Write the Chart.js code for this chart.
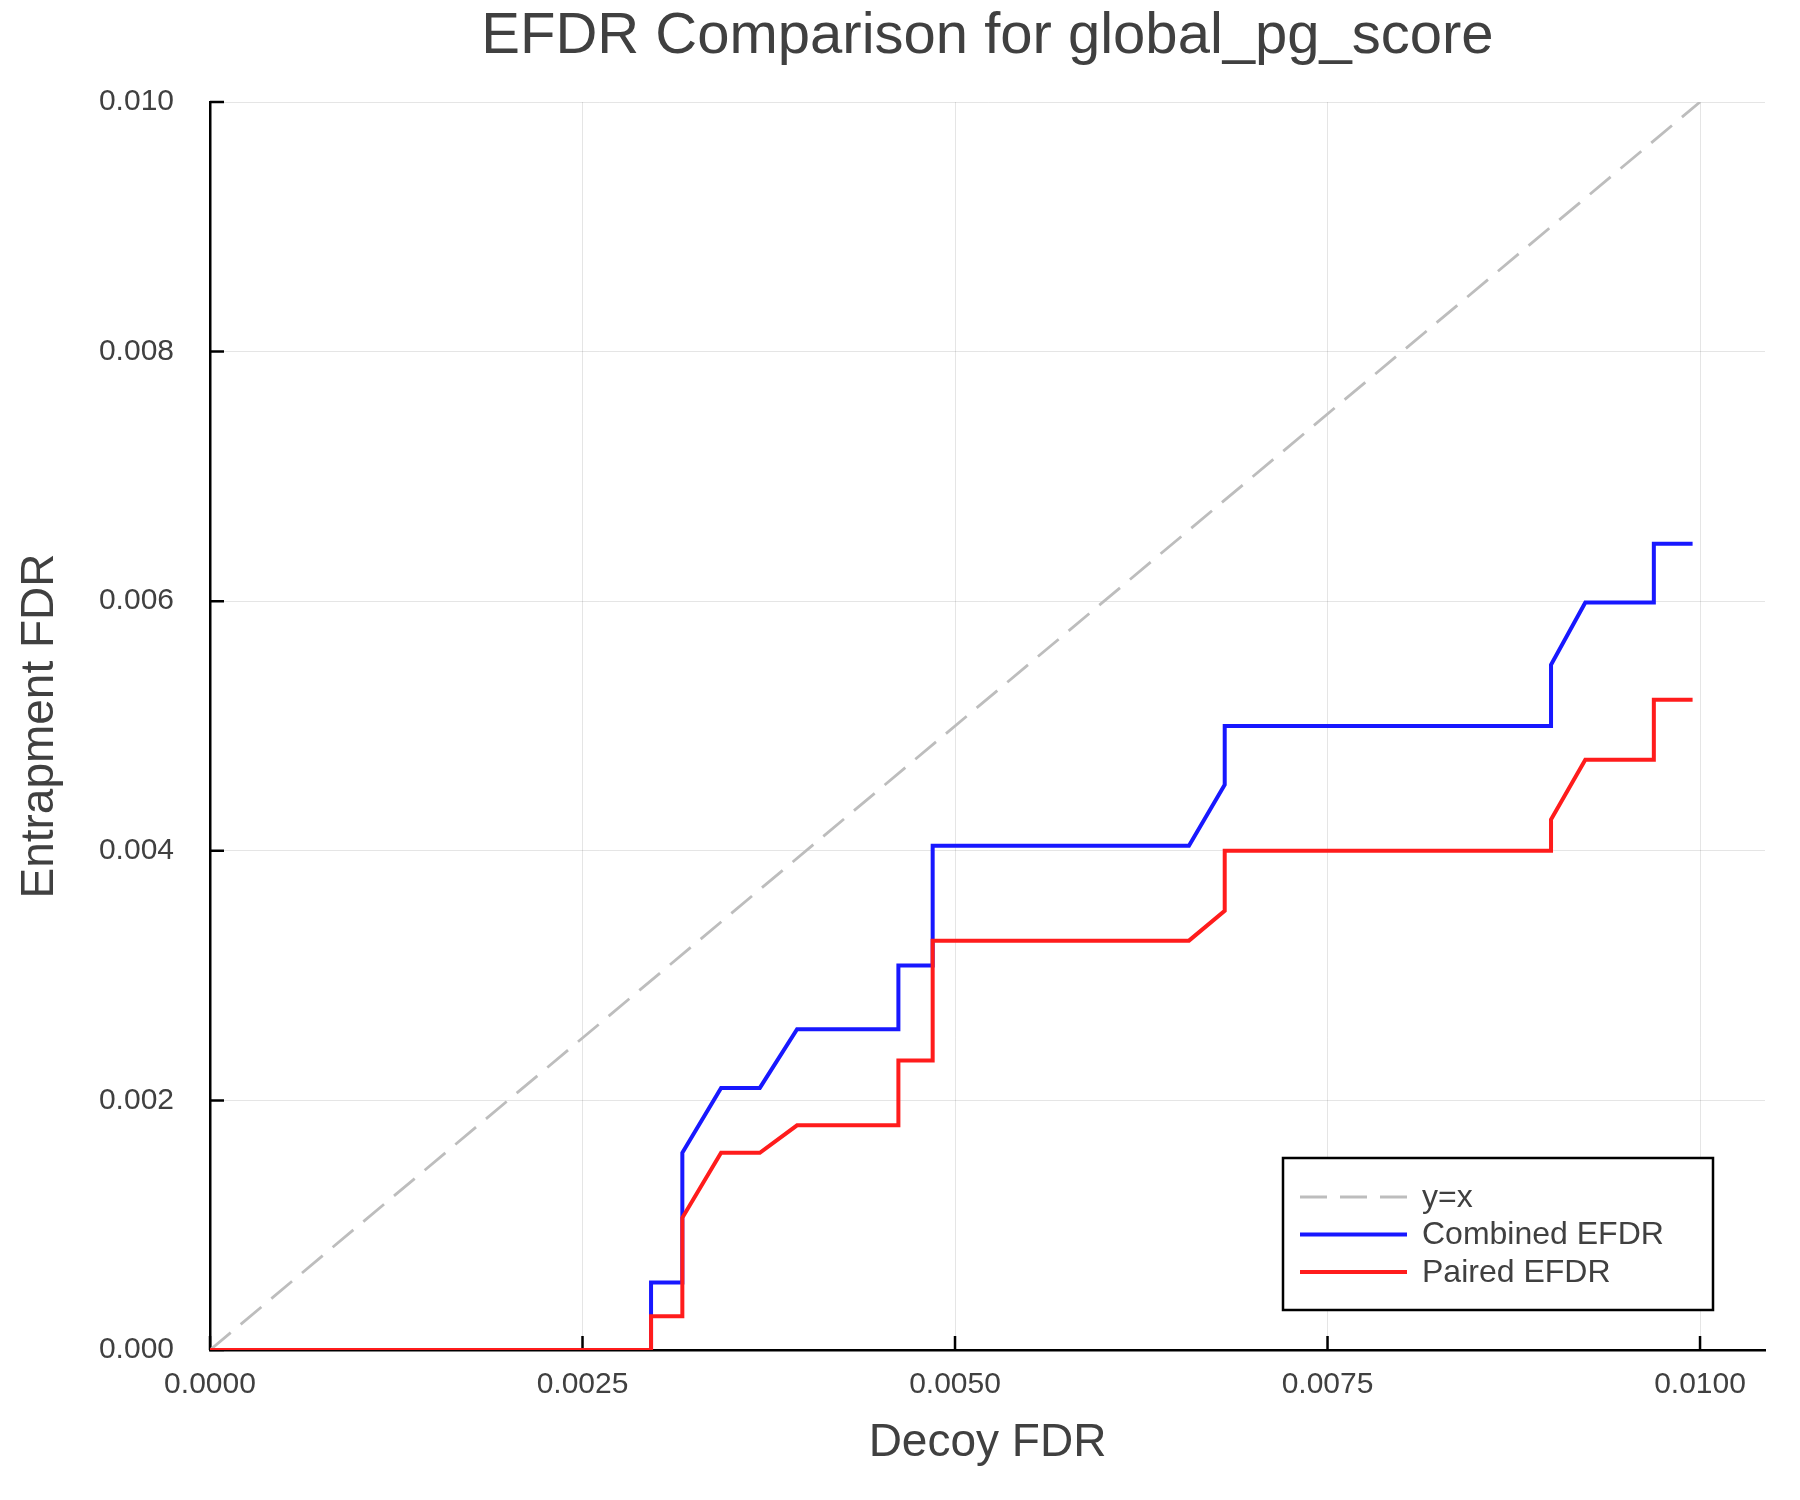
<!DOCTYPE html>
<html>
<head>
<meta charset="utf-8">
<title>EFDR Comparison</title>
<script src="https://cdn.jsdelivr.net/npm/chart.js@4.4.1/dist/chart.umd.min.js"></script>
<style>
  body { margin: 0; background: #fff; }
</style>
</head>
<body>
<canvas id="efdrChart" width="1800" height="1500"></canvas>
<script>
// values (FDR units)
const diagX = [0, 0.01];
const diagY = [0, 0.01];

const combinedX = [0, 0.00296, 0.00296, 0.00317, 0.00317, 0.00343, 0.00369, 0.00394, 0.00462, 0.00462, 0.00485, 0.00485, 0.00657, 0.00681, 0.00681, 0.00900, 0.00900, 0.00923, 0.00969, 0.00969, 0.00995];
const combinedY = [0, 0, 0.00054, 0.00054, 0.00158, 0.00210, 0.00210, 0.00257, 0.00257, 0.00308, 0.00308, 0.00404, 0.00404, 0.00453, 0.00500, 0.00500, 0.00549, 0.00599, 0.00599, 0.00646, 0.00646];

const pairedX = [0, 0.00296, 0.00296, 0.00317, 0.00317, 0.00343, 0.00369, 0.00394, 0.00462, 0.00462, 0.00485, 0.00485, 0.00657, 0.00681, 0.00681, 0.00900, 0.00900, 0.00923, 0.00969, 0.00969, 0.00995];
const pairedY = [0, 0, 0.00027, 0.00027, 0.00106, 0.00158, 0.00158, 0.00180, 0.00180, 0.00232, 0.00232, 0.00328, 0.00328, 0.00352, 0.00400, 0.00400, 0.00425, 0.00473, 0.00473, 0.00521, 0.00521];

const xTickValues = [0, 0.0025, 0.005, 0.0075, 0.01];
const yTickValues = [0, 0.002, 0.004, 0.006, 0.008, 0.01];

const FONT = '"Liberation Sans", Helvetica, Arial, sans-serif';
const TEXT = '#404040';

const toPoints = (xs, ys) => xs.map((x, i) => ({ x: x, y: ys[i] }));

// title centred over the plot area, not the canvas
const plotTitle = {
    id: 'plotTitle',
    afterDraw(chart) {
        const { ctx, chartArea } = chart;
        ctx.save();
        ctx.font = '58px ' + FONT;
        ctx.fillStyle = TEXT;
        ctx.textAlign = 'center';
        ctx.textBaseline = 'middle';
        ctx.fillText('EFDR Comparison for global_pg_score', (chartArea.left + chartArea.right) / 2, 37);
        ctx.restore();
    }
};

// tick marks point into the plot
const innerTicks = {
    id: 'innerTicks',
    beforeDatasetsDraw(chart) {
        const { ctx, chartArea, scales } = chart;
        ctx.save();
        ctx.strokeStyle = '#000';
        ctx.lineWidth = 2.5;
        ctx.beginPath();
        scales.x.ticks.forEach(t => {
            const px = scales.x.getPixelForValue(t.value);
            ctx.moveTo(px, chartArea.bottom);
            ctx.lineTo(px, chartArea.bottom - 14);
        });
        scales.y.ticks.forEach(t => {
            const py = scales.y.getPixelForValue(t.value);
            ctx.moveTo(chartArea.left, py);
            ctx.lineTo(chartArea.left + 14, py);
        });
        ctx.stroke();
        ctx.restore();
    }
};

// boxed legend in the lower right of the plot
const boxLegend = {
    id: 'boxLegend',
    afterDraw(chart) {
        const { ctx, chartArea } = chart;
        const w = 430, h = 152;
        const left = chartArea.right - 52 - w;
        const top = chartArea.bottom - 40 - h;
        ctx.save();
        ctx.fillStyle = '#fff';
        ctx.fillRect(left, top, w, h);
        ctx.strokeStyle = '#000';
        ctx.lineWidth = 2.5;
        ctx.strokeRect(left, top, w, h);
        ctx.font = '32px ' + FONT;
        ctx.textBaseline = 'middle';
        chart.data.datasets.forEach((ds, i) => {
            const cy = top + 39 + i * 37.5;
            ctx.strokeStyle = ds.borderColor;
            ctx.lineWidth = ds.borderWidth;
            ctx.setLineDash(ds.borderDash || []);
            ctx.beginPath();
            ctx.moveTo(left + 17, cy);
            ctx.lineTo(left + 124, cy);
            ctx.stroke();
            ctx.setLineDash([]);
            ctx.fillStyle = TEXT;
            ctx.fillText(ds.label, left + 139, cy + 1);
        });
        ctx.restore();
    }
};

const ctx = document.getElementById('efdrChart').getContext('2d');
const efdrChart = new Chart(ctx, {
    type: 'line',
    data: {
        datasets: [
            { label: 'y=x', data: toPoints(diagX, diagY), borderColor: '#bdbdbd', borderWidth: 2.8, borderDash: [27, 13], pointRadius: 0, order: 3 },
            { label: 'Combined EFDR', data: toPoints(combinedX, combinedY), borderColor: 'rgb(24,24,255)', borderWidth: 4, pointRadius: 0, order: 2 },
            { label: 'Paired EFDR', data: toPoints(pairedX, pairedY), borderColor: 'rgb(255,28,28)', borderWidth: 4, pointRadius: 0, order: 1 }
        ]
    },
    options: {
        responsive: false,
        animation: false,
        devicePixelRatio: 1,
        layout: { padding: { top: 102, right: 35, left: 0, bottom: 0 } },
        elements: { line: { tension: 0, borderJoinStyle: 'miter', fill: false } },
        plugins: { legend: { display: false }, title: { display: false }, tooltip: { enabled: false } },
        scales: {
            x: {
                type: 'linear',
                min: 0,
                max: 0.010436,
                afterBuildTicks: scale => { scale.ticks = xTickValues.map(v => ({ value: v })); },
                afterFit: scale => { scale.height = 150; },
                grid: { color: 'rgba(0,0,0,0.1)', lineWidth: 1, drawTicks: false },
                border: { display: true, color: '#000', width: 2.5 },
                ticks: { padding: 17, color: TEXT, font: { family: FONT, size: 30 }, callback: v => v.toFixed(4) },
                title: { display: true, text: 'Decoy FDR', color: TEXT, font: { family: FONT, size: 46 }, padding: { top: 0, bottom: 29 } }
            },
            y: {
                type: 'linear',
                min: 0,
                max: 0.01,
                afterBuildTicks: scale => { scale.ticks = yTickValues.map(v => ({ value: v })); },
                afterFit: scale => { scale.width = 210; },
                grid: { color: 'rgba(0,0,0,0.1)', lineWidth: 1, drawTicks: false },
                border: { display: true, color: '#000', width: 2.5 },
                ticks: { padding: 36, color: TEXT, font: { family: FONT, size: 30 }, callback: v => v.toFixed(3) },
                title: { display: true, text: 'Entrapment FDR', color: TEXT, font: { family: FONT, size: 46 }, padding: { top: 13, bottom: 0 } }
            }
        }
    },
    plugins: [plotTitle, innerTicks, boxLegend]
});
</script>
</body>
</html>
